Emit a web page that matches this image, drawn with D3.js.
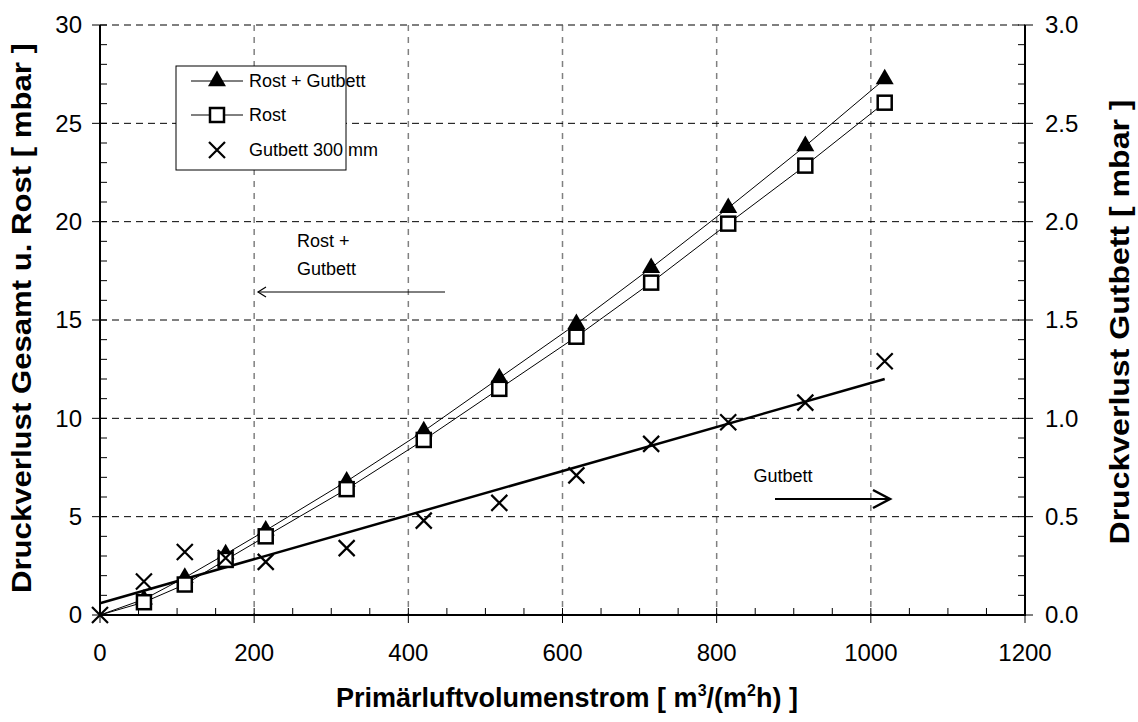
<!DOCTYPE html>
<html>
<head>
<meta charset="utf-8">
<script src="https://cdnjs.cloudflare.com/ajax/libs/d3/7.8.5/d3.min.js"></script>
<style>
  body { margin: 0; background: #fff; }
  svg { display: block; font-family: "Liberation Sans", Arial, sans-serif; }
</style>
</head>
<body>
<div id="chart"></div>
<script>
var flow = [0, 57, 110, 163, 215, 320, 420, 518, 618, 715, 815, 915, 1018];
var rostGutbett = [0, 0.8, 1.9, 3.1, 4.3, 6.8, 9.35, 12.05, 14.8, 17.65, 20.7, 23.85, 27.25];
var rost = [0, 0.65, 1.55, 2.8, 4.0, 6.4, 8.9, 11.5, 14.15, 16.9, 19.9, 22.85, 26.05];
var gutbett = [0, 0.17, 0.32, 0.29, 0.27, 0.34, 0.48, 0.57, 0.71, 0.87, 0.98, 1.08, 1.29];
var gutbettTrend = [[0, 0.06], [1018, 1.2]];
var xTicks = [0, 200, 400, 600, 800, 1000, 1200];
var yTicks = [0, 5, 10, 15, 20, 25, 30];
var y2Ticks = [0, 0.5, 1.0, 1.5, 2.0, 2.5, 3.0];
var legendLabels = ['Rost + Gutbett', 'Rost', 'Gutbett 300 mm'];

var W = 1138, H = 722
  , mL = 100, mR = 1025, mT = 25, mB = 615;

var svg = d3.select('#chart').append('svg')
  .attr('width', W)
  .attr('height', H);

var x = d3.scaleLinear().domain([0, 1200]).range([mL, mR]);
var y = d3.scaleLinear().domain([0, 30]).range([mB, mT]);
var y2 = d3.scaleLinear().domain([0, 3]).range([mB, mT]);

// grid
var grid = svg.append('g');
grid.selectAll('line.v')
  .data(xTicks.filter(function(d) { return d > 0 && d < 1200; }))
  .enter().append('line')
  .attr('x1', function(d) { return x(d); })
  .attr('x2', function(d) { return x(d); })
  .attr('y1', mT).attr('y2', mB)
  .attr('stroke', '#808080').attr('stroke-width', 1.5)
  .attr('stroke-dasharray', '6,6');
grid.selectAll('line.h')
  .data(yTicks.filter(function(d) { return d > 0; }))
  .enter().append('line')
  .attr('x1', mL).attr('x2', mR)
  .attr('y1', function(d) { return y(d); })
  .attr('y2', function(d) { return y(d); })
  .attr('stroke', function(d) { return d === 30 ? '#555' : '#000'; })
  .attr('stroke-width', function(d) { return d === 30 ? 1.5 : 1; })
  .attr('stroke-dasharray', '7,5');

// axes
var axes = svg.append('g').attr('stroke', '#000');
axes.append('line').attr('x1', mL).attr('x2', mL).attr('y1', mT).attr('y2', mB + 1).attr('stroke-width', 2);
axes.append('line').attr('x1', mR).attr('x2', mR).attr('y1', mT).attr('y2', mB + 1).attr('stroke-width', 2);
axes.append('line').attr('x1', mL).attr('x2', mR).attr('y1', mB).attr('y2', mB).attr('stroke-width', 2);

// minor ticks
axes.selectAll('line.ym').data(d3.range(0, 31, 1)).enter().append('line')
  .attr('x1', mL).attr('x2', mL + 7)
  .attr('y1', function(d) { return y(d); }).attr('y2', function(d) { return y(d); });
axes.selectAll('line.y2m').data(d3.range(0, 31, 1)).enter().append('line')
  .attr('x1', mR - 7).attr('x2', mR)
  .attr('y1', function(d) { return y2(d / 10); }).attr('y2', function(d) { return y2(d / 10); });
axes.selectAll('line.xm').data(d3.range(0, 1201, 50)).enter().append('line')
  .attr('x1', function(d) { return x(d); }).attr('x2', function(d) { return x(d); })
  .attr('y1', mB - 7).attr('y2', mB);
// major ticks
axes.selectAll('line.yM').data(yTicks).enter().append('line')
  .attr('x1', mL - 8).attr('x2', mL)
  .attr('y1', function(d) { return y(d); }).attr('y2', function(d) { return y(d); });
axes.selectAll('line.y2M').data(y2Ticks).enter().append('line')
  .attr('x1', mR).attr('x2', mR + 8)
  .attr('y1', function(d) { return y2(d); }).attr('y2', function(d) { return y2(d); });
axes.selectAll('line.xM').data(xTicks).enter().append('line')
  .attr('x1', function(d) { return x(d); }).attr('x2', function(d) { return x(d); })
  .attr('y1', mB).attr('y2', mB + 8);

// tick labels
var labels = svg.append('g').attr('font-size', 24).attr('fill', '#000');
labels.selectAll('text.y').data(yTicks).enter().append('text')
  .attr('x', mL - 18).attr('y', function(d) { return y(d); })
  .attr('dy', '0.35em').attr('text-anchor', 'end')
  .text(function(d) { return d; });
labels.selectAll('text.y2').data(y2Ticks).enter().append('text')
  .attr('x', mR + 20).attr('y', function(d) { return y2(d); })
  .attr('dy', '0.35em').attr('text-anchor', 'start')
  .text(function(d) { return d.toFixed(1); });
labels.selectAll('text.x').data(xTicks).enter().append('text')
  .attr('x', function(d) { return x(d); }).attr('y', mB + 46)
  .attr('text-anchor', 'middle')
  .text(function(d) { return d; });

// axis titles
svg.append('text')
  .attr('transform', 'translate(31,318) rotate(-90)')
  .attr('text-anchor', 'middle').attr('font-size', 27).attr('font-weight', 'bold')
  .attr('textLength', 550).attr('lengthAdjust', 'spacingAndGlyphs')
  .text('Druckverlust Gesamt u. Rost [ mbar ]');
svg.append('text')
  .attr('transform', 'translate(1129,322) rotate(-90)')
  .attr('text-anchor', 'middle').attr('font-size', 27).attr('font-weight', 'bold')
  .attr('textLength', 445).attr('lengthAdjust', 'spacingAndGlyphs')
  .text('Druckverlust Gutbett [ mbar ]');
var xt = svg.append('text')
  .attr('x', 567).attr('y', 707)
  .attr('text-anchor', 'middle').attr('font-size', 27).attr('font-weight', 'bold');
xt.append('tspan').text('Primärluftvolumenstrom [ m');
xt.append('tspan').attr('font-size', 16).attr('dy', -11).text('3');
xt.append('tspan').attr('dy', 11).text('/(m');
xt.append('tspan').attr('font-size', 16).attr('dy', -11).text('2');
xt.append('tspan').attr('dy', 11).text('h) ]');

// series lines
var pts = function(vals) { return flow.map(function(f, i) { return [x(f), y(vals[i])]; }); };
var line = d3.line();
svg.append('path').attr('d', line(pts(rostGutbett)))
  .attr('fill', 'none').attr('stroke', '#000').attr('stroke-width', 1);
svg.append('path').attr('d', line(pts(rost)))
  .attr('fill', 'none').attr('stroke', '#000').attr('stroke-width', 1);
svg.append('path').attr('d', line(gutbettTrend.map(function(d) { return [x(d[0]), y2(d[1])]; })))
  .attr('fill', 'none').attr('stroke', '#000').attr('stroke-width', 2.5);

// markers (the origin point of the two measured series carries no marker)
var tri = d3.symbol().type(d3.symbolTriangle).size(140);
var sq = function(g, cx, cy) {
  g.append('rect').attr('x', cx - 7).attr('y', cy - 7).attr('width', 14).attr('height', 14)
    .attr('fill', '#fff').attr('stroke', '#000').attr('stroke-width', 2.5);
};
var cross = function(g, cx, cy) {
  g.append('path').attr('d', 'M' + (cx - 8) + ',' + (cy - 8) + 'L' + (cx + 8) + ',' + (cy + 8) +
    'M' + (cx + 8) + ',' + (cy - 8) + 'L' + (cx - 8) + ',' + (cy + 8))
    .attr('stroke', '#000').attr('stroke-width', 2.2).attr('fill', 'none');
};
var marks = svg.append('g');
flow.forEach(function(f, i) {
  if (i === 0) return;
  marks.append('path').attr('d', tri)
    .attr('transform', 'translate(' + x(f) + ',' + y(rostGutbett[i]) + ')')
    .attr('fill', '#000');
});
flow.forEach(function(f, i) { if (i > 0) sq(marks, x(f), y(rost[i])); });
flow.forEach(function(f, i) { cross(marks, x(f), y2(gutbett[i])); });

// legend
var lg = svg.append('g');
lg.append('rect').attr('x', 176).attr('y', 66).attr('width', 170).attr('height', 104)
  .attr('fill', '#fff').attr('stroke', '#000').attr('stroke-width', 1);
var ly = [81, 115, 150];
lg.selectAll('text').data(legendLabels).enter().append('text')
  .attr('x', 249).attr('y', function(d, i) { return ly[i]; })
  .attr('dy', '0.35em').attr('font-size', 18)
  .text(function(d) { return d; });
lg.append('line').attr('x1', 191).attr('x2', 243).attr('y1', ly[0]).attr('y2', ly[0]).attr('stroke', '#000');
lg.append('path').attr('d', tri).attr('transform', 'translate(217,' + ly[0] + ')').attr('fill', '#000');
lg.append('line').attr('x1', 191).attr('x2', 243).attr('y1', ly[1]).attr('y2', ly[1]).attr('stroke', '#000');
sq(lg, 217, ly[1]);
cross(lg, 217, ly[2]);

// annotations
var ann = svg.append('g').attr('font-size', 18);
ann.append('text').attr('x', 297).attr('y', 247).text('Rost +');
ann.append('text').attr('x', 297).attr('y', 275).text('Gutbett');
ann.append('line').attr('x1', 445).attr('x2', 258).attr('y1', 292).attr('y2', 292)
  .attr('stroke', '#000').attr('stroke-width', 1);
ann.append('path').attr('d', 'M266,287L258,292L266,297')
  .attr('fill', 'none').attr('stroke', '#000').attr('stroke-width', 1.2);
ann.append('text').attr('x', 783).attr('y', 482).attr('text-anchor', 'middle').text('Gutbett');
ann.append('line').attr('x1', 775).attr('x2', 890).attr('y1', 499).attr('y2', 499)
  .attr('stroke', '#000').attr('stroke-width', 2);
ann.append('path').attr('d', 'M873,490L890,499L873,508')
  .attr('fill', 'none').attr('stroke', '#000').attr('stroke-width', 2.5);
</script>
</body>
</html>
